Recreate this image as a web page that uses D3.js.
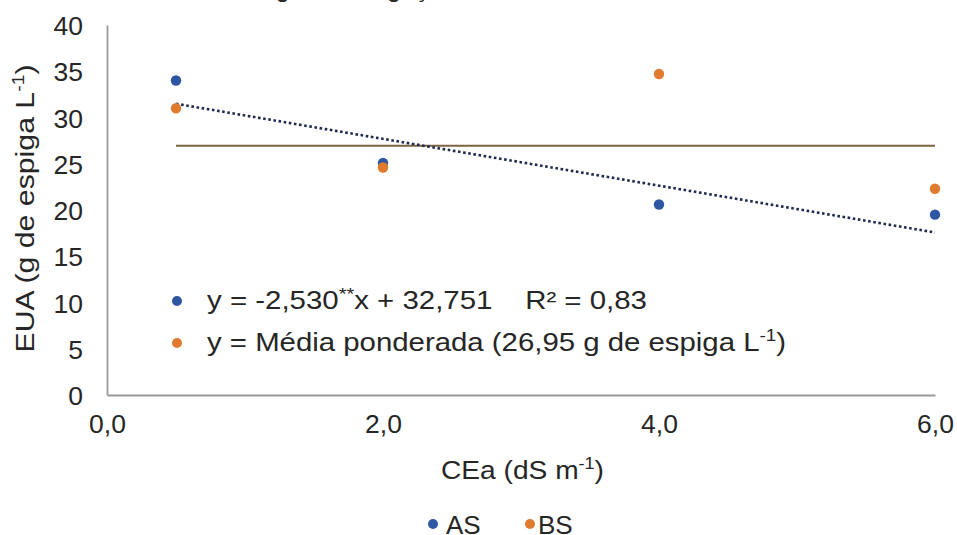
<!DOCTYPE html>
<html>
<head>
<meta charset="utf-8">
<script src="https://cdn.jsdelivr.net/npm/d3@7"></script>
<style>
  html, body { margin: 0; padding: 0; background: #fff; }
  svg { display: block; font-family: "Liberation Sans", Arial, sans-serif; }
</style>
</head>
<body>
<svg id="chart" width="957" height="535"></svg>
<script>
// Electrical conductivity of irrigation water (dS m-1)
const cea = [0.5, 2.0, 4.0, 6.0];
// Water use efficiency (g de espiga L-1) per series
const seriesAS = [34.0, 25.1, 20.6, 19.5];
const seriesBS = [31.0, 24.6, 34.7, 22.3];
// Fitted model for AS and weighted mean for BS
const fitSlope = -2.530;
const fitIntercept = 32.751;
const weightedMean = 26.95;
const xTicks = [0, 2, 4, 6];
const yTicks = [0, 5, 10, 15, 20, 25, 30, 35, 40];

const colAS = "#2f56a3";
const colBS = "#e07a2f";
const textCol = "#262626";

const svg = d3.select("#chart");
const margin = { left: 107, right: 22, top: 25, bottom: 140 };
const W = 957, H = 535;

const x = d3.scaleLinear().domain([0, 6]).range([margin.left, W - margin.right]);
const y = d3.scaleLinear().domain([0, 40]).range([H - margin.bottom, margin.top]);

// caption line running off the top edge
svg.append("text")
  .attr("x", 455).attr("y", -3)
  .attr("text-anchor", "end")
  .attr("font-size", 25).attr("fill", textCol)
  .text("Eficiência no uso da água sob diferentes CEa da água de irrigação");

// axes
const axisCol = "#9a9a9a";
const xAxis = svg.append("g")
  .attr("transform", `translate(0,${y(0)})`)
  .call(d3.axisBottom(x).tickValues(xTicks).tickSize(0).tickPadding(19)
    .tickFormat(d => d3.format(".1f")(d).replace(".", ",")));
const yAxis = svg.append("g")
  .attr("transform", `translate(${x(0)},0)`)
  .call(d3.axisLeft(y).tickValues(yTicks).tickSize(0).tickPadding(24));
[xAxis, yAxis].forEach(g => {
  g.select(".domain").attr("stroke", axisCol).attr("stroke-width", 1.8);
  g.selectAll("text").attr("font-size", 26.5).attr("fill", textCol)
    .attr("font-family", "Liberation Sans, Arial, sans-serif");
});
xAxis.selectAll("text").attr("dy", "0.71em");
yAxis.selectAll("text").attr("dy", "0.36em");

// weighted mean line (BS)
svg.append("line")
  .attr("x1", x(cea[0])).attr("x2", x(cea[cea.length - 1]))
  .attr("y1", y(weightedMean)).attr("y2", y(weightedMean))
  .attr("stroke", "#7d6542").attr("stroke-width", 2);

// linear trend (AS)
const xs = d3.extent(cea);
svg.append("line")
  .attr("x1", x(xs[0])).attr("y1", y(fitIntercept + fitSlope * xs[0]))
  .attr("x2", x(xs[1])).attr("y2", y(fitIntercept + fitSlope * xs[1]))
  .attr("stroke", "#1f2b4e").attr("stroke-width", 2.6)
  .attr("stroke-dasharray", "2.6,2.6");

// points
svg.append("g").selectAll("circle").data(cea.map((c, i) => [c, seriesAS[i]]))
  .join("circle")
  .attr("cx", d => x(d[0])).attr("cy", d => y(d[1])).attr("r", 5.2)
  .attr("fill", colAS);
svg.append("g").selectAll("circle").data(cea.map((c, i) => [c, seriesBS[i]]))
  .join("circle")
  .attr("cx", d => x(d[0])).attr("cy", d => y(d[1])).attr("r", 5.2)
  .attr("fill", colBS);

// equation legend inside the plot
const eq = svg.append("g");
eq.append("circle").attr("cx", 177).attr("cy", 301).attr("r", 5).attr("fill", colAS);
eq.append("circle").attr("cx", 177).attr("cy", 343).attr("r", 5).attr("fill", colBS);
const t1 = eq.append("text").attr("x", 207).attr("y", 309)
  .attr("font-size", 25).attr("fill", textCol)
  .attr("textLength", 440).attr("lengthAdjust", "spacingAndGlyphs");
t1.append("tspan").text("y = -2,530");
t1.append("tspan").attr("font-size", 17).attr("dy", -9).text("**");
t1.append("tspan").attr("dy", 9).text("x + 32,751\u00a0\u00a0\u00a0\u00a0R² = 0,83");
const t2 = eq.append("text").attr("x", 207).attr("y", 351)
  .attr("font-size", 25).attr("fill", textCol)
  .attr("textLength", 579).attr("lengthAdjust", "spacingAndGlyphs");
t2.append("tspan").text("y = Média ponderada (26,95 g de espiga L");
t2.append("tspan").attr("font-size", 16).attr("dy", -10).text("-1");
t2.append("tspan").attr("dy", 10).text(")");

// axis titles
const yt = svg.append("text")
  .attr("transform", `translate(34,${(65 + 352) / 2}) rotate(-90)`)
  .attr("x", -144)
  .attr("font-size", 25).attr("fill", textCol)
  .attr("textLength", 288).attr("lengthAdjust", "spacingAndGlyphs");
yt.append("tspan").text("EUA (g de espiga L");
yt.append("tspan").attr("font-size", 16).attr("dy", -10).text("-1");
yt.append("tspan").attr("dy", 10).text(")");

const xt = svg.append("text")
  .attr("x", 441).attr("y", 479)
  .attr("font-size", 25).attr("fill", textCol)
  .attr("textLength", 163).attr("lengthAdjust", "spacingAndGlyphs");
xt.append("tspan").text("CEa (dS m");
xt.append("tspan").attr("font-size", 16).attr("dy", -10).text("-1");
xt.append("tspan").attr("dy", 10).text(")");

// series legend
const leg = svg.append("g");
[["AS", colAS, 433, 446], ["BS", colBS, 530, 538]].forEach(([name, c, px, tx]) => {
  leg.append("circle").attr("cx", px).attr("cy", 524).attr("r", 5).attr("fill", c);
  leg.append("text").attr("x", tx).attr("y", 534)
    .attr("font-size", 26).attr("fill", textCol).text(name);
});
</script>
</body>
</html>
